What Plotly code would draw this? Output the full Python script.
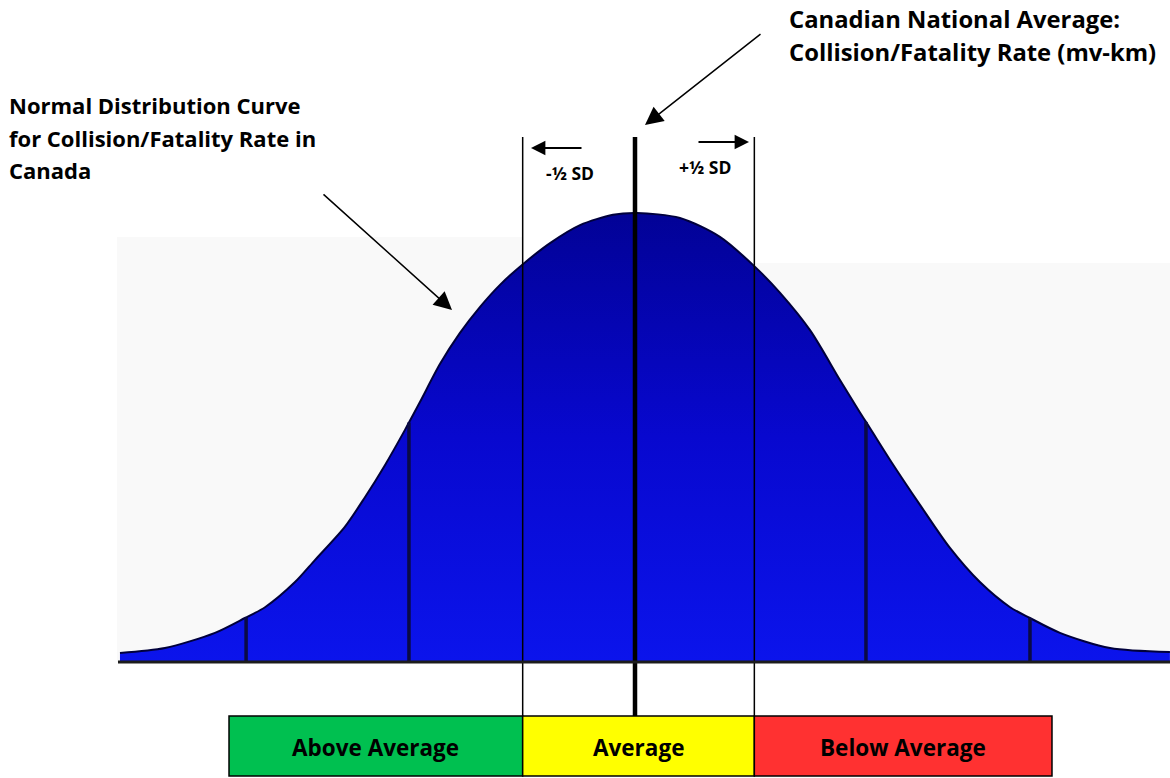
import numpy as np
import plotly.graph_objects as go

# ---------------- data ----------------
# curve position in standard-deviation units, relative height (peak = 1)
curve_z = [-2.201, -2.009, -1.795, -1.667, -1.581, -1.453, -1.368, -1.240, -1.154,
           -1.068, -0.983, -0.919, -0.833, -0.748, -0.662, -0.577, -0.479, -0.363,
           -0.235, -0.094, 0.009, 0.192, 0.363, 0.513, 0.620, 0.748, 0.876, 0.962,
           1.004, 1.090, 1.218, 1.346, 1.474, 1.603, 1.688, 1.816, 2.030, 2.286]
curve_h = [0.020, 0.031, 0.065, 0.098, 0.122, 0.178, 0.227, 0.301, 0.367,
           0.439, 0.517, 0.579, 0.664, 0.733, 0.791, 0.840, 0.886, 0.933,
           0.973, 0.996, 1.000, 0.989, 0.947, 0.880, 0.822, 0.739, 0.628, 0.555,
           0.521, 0.450, 0.350, 0.254, 0.178, 0.122, 0.098, 0.065, 0.031, 0.022]
# dark division lines drawn inside the curve (SD units)
inner_lines = [-1.662, -0.966, 0.987, 1.688]
# half-SD markers and the national average
half_sd_lines = [-0.48, 0.51]
mean_line = 0.0
# bottom classification bands
band_labels = ["Above Average", "Average", "Below Average"]
band_edges = [-1.735, -0.48, 0.51, 1.782]
band_colors = ["#00c050", "#ffff00", "#ff3131"]

# ---------------- layout helpers ----------------
W, H = 1170, 778
X0, XS = 635.0, 234.0      # pixel of mean, pixels per SD
Y0, YS = 662.0, 449.0      # pixel of baseline, pixels per unit height


def zx(px):
    return (px - X0) / XS


def hy(py):
    return (Y0 - py) / YS


FONT = "Open Sans"

fig = go.Figure()

# faint pasted-image background
fig.add_shape(type="rect", x0=zx(117), x1=zx(522), y0=0, y1=hy(237),
              fillcolor="#f9f9f9", line_width=0, layer="below")
fig.add_shape(type="rect", x0=zx(756), x1=zx(1170), y0=0, y1=hy(263),
              fillcolor="#f9f9f9", line_width=0, layer="below")

# filled normal curve
fig.add_trace(go.Scatter(
    x=curve_z, y=curve_h, mode="lines",
    line=dict(color="#00003c", width=2, shape="spline", smoothing=0.8),
    fill="tozeroy",
    fillgradient=dict(type="vertical",
                      colorscale=[[0, "#0b14ec"], [0.5, "#0808cf"], [1, "#020296"]]),
    hoverinfo="skip", showlegend=False))

# dark division lines inside the curve
for z in inner_lines:
    top = float(np.interp(z, curve_z, curve_h))
    fig.add_trace(go.Scatter(x=[z, z], y=[0, top], mode="lines",
                             line=dict(color="#0a0a44", width=3.5),
                             hoverinfo="skip", showlegend=False))

# baseline
fig.add_shape(type="line", x0=zx(118), x1=zx(1170), y0=0, y1=0,
              line=dict(color="#1c1c1c", width=3))

# half-SD lines and mean line
for z in half_sd_lines:
    fig.add_trace(go.Scatter(x=[z, z], y=[hy(137), hy(716)], mode="lines",
                             line=dict(color="black", width=1.5),
                             hoverinfo="skip", showlegend=False))
fig.add_trace(go.Scatter(x=[mean_line, mean_line], y=[hy(137), hy(716)], mode="lines",
                         line=dict(color="black", width=4.5),
                         hoverinfo="skip", showlegend=False))

# bottom bands
for i, lab in enumerate(band_labels):
    fig.add_shape(type="rect", x0=band_edges[i], x1=band_edges[i + 1],
                  y0=hy(776), y1=hy(716), fillcolor=band_colors[i],
                  line=dict(color="black", width=1.5))
    fig.add_annotation(x=(band_edges[i] + band_edges[i + 1]) / 2, y=hy(747),
                       text=f"<b>{lab}</b>", showarrow=False,
                       font=dict(family=FONT, size=22.5, color="black"))

# half-SD arrows and labels
fig.add_annotation(x=zx(531), y=hy(148), ax=52, ay=0, text="", showarrow=True,
                   arrowhead=2, arrowsize=1.6, arrowwidth=1.8, arrowcolor="black")
fig.add_annotation(x=zx(749), y=hy(142), ax=-52, ay=0, text="", showarrow=True,
                   arrowhead=2, arrowsize=1.6, arrowwidth=1.8, arrowcolor="black")
fig.add_annotation(x=zx(570), y=hy(173), text="<b>-½ SD</b>", showarrow=False,
                   font=dict(family=FONT, size=17.5, color="black"))
fig.add_annotation(x=zx(705), y=hy(167), text="<b>+½ SD</b>", showarrow=False,
                   font=dict(family=FONT, size=17.5, color="black"))

# callout texts
left_lines = ["Normal Distribution Curve", "for Collision/Fatality Rate in", "Canada"]
for k, t in enumerate(left_lines):
    fig.add_annotation(x=zx(7), y=hy(105 + 32.5 * k), text=f"<b>{t}</b>",
                       showarrow=False, xanchor="left", yanchor="middle",
                       font=dict(family=FONT, size=22, color="black"))
right_lines = ["Canadian National Average:", "Collision/Fatality Rate (mv-km)"]
for k, t in enumerate(right_lines):
    fig.add_annotation(x=zx(787), y=hy(19 + 33 * k), text=f"<b>{t}</b>",
                       showarrow=False, xanchor="left", yanchor="middle",
                       font=dict(family=FONT, size=23.8, color="black"))

# callout arrows
fig.add_annotation(x=zx(452), y=hy(310), ax=-130, ay=-117, text="", showarrow=True,
                   arrowhead=2, arrowsize=2.4, arrowwidth=1.5, arrowcolor="black")
fig.add_annotation(x=zx(645), y=hy(125), ax=117, ay=-92, text="", showarrow=True,
                   arrowhead=2, arrowsize=2.4, arrowwidth=1.5, arrowcolor="black")

fig.update_layout(
    width=W, height=H, margin=dict(l=0, r=0, t=0, b=0),
    paper_bgcolor="white", plot_bgcolor="white",
    xaxis=dict(range=[zx(0), zx(W)], visible=False, fixedrange=True),
    yaxis=dict(range=[hy(H), hy(0)], visible=False, fixedrange=True),
    showlegend=False,
)

fig.write_html(
    "out.html",
    config={"displayModeBar": False},
    post_script="document.body.style.margin='0';document.body.style.overflow='hidden';",
)
